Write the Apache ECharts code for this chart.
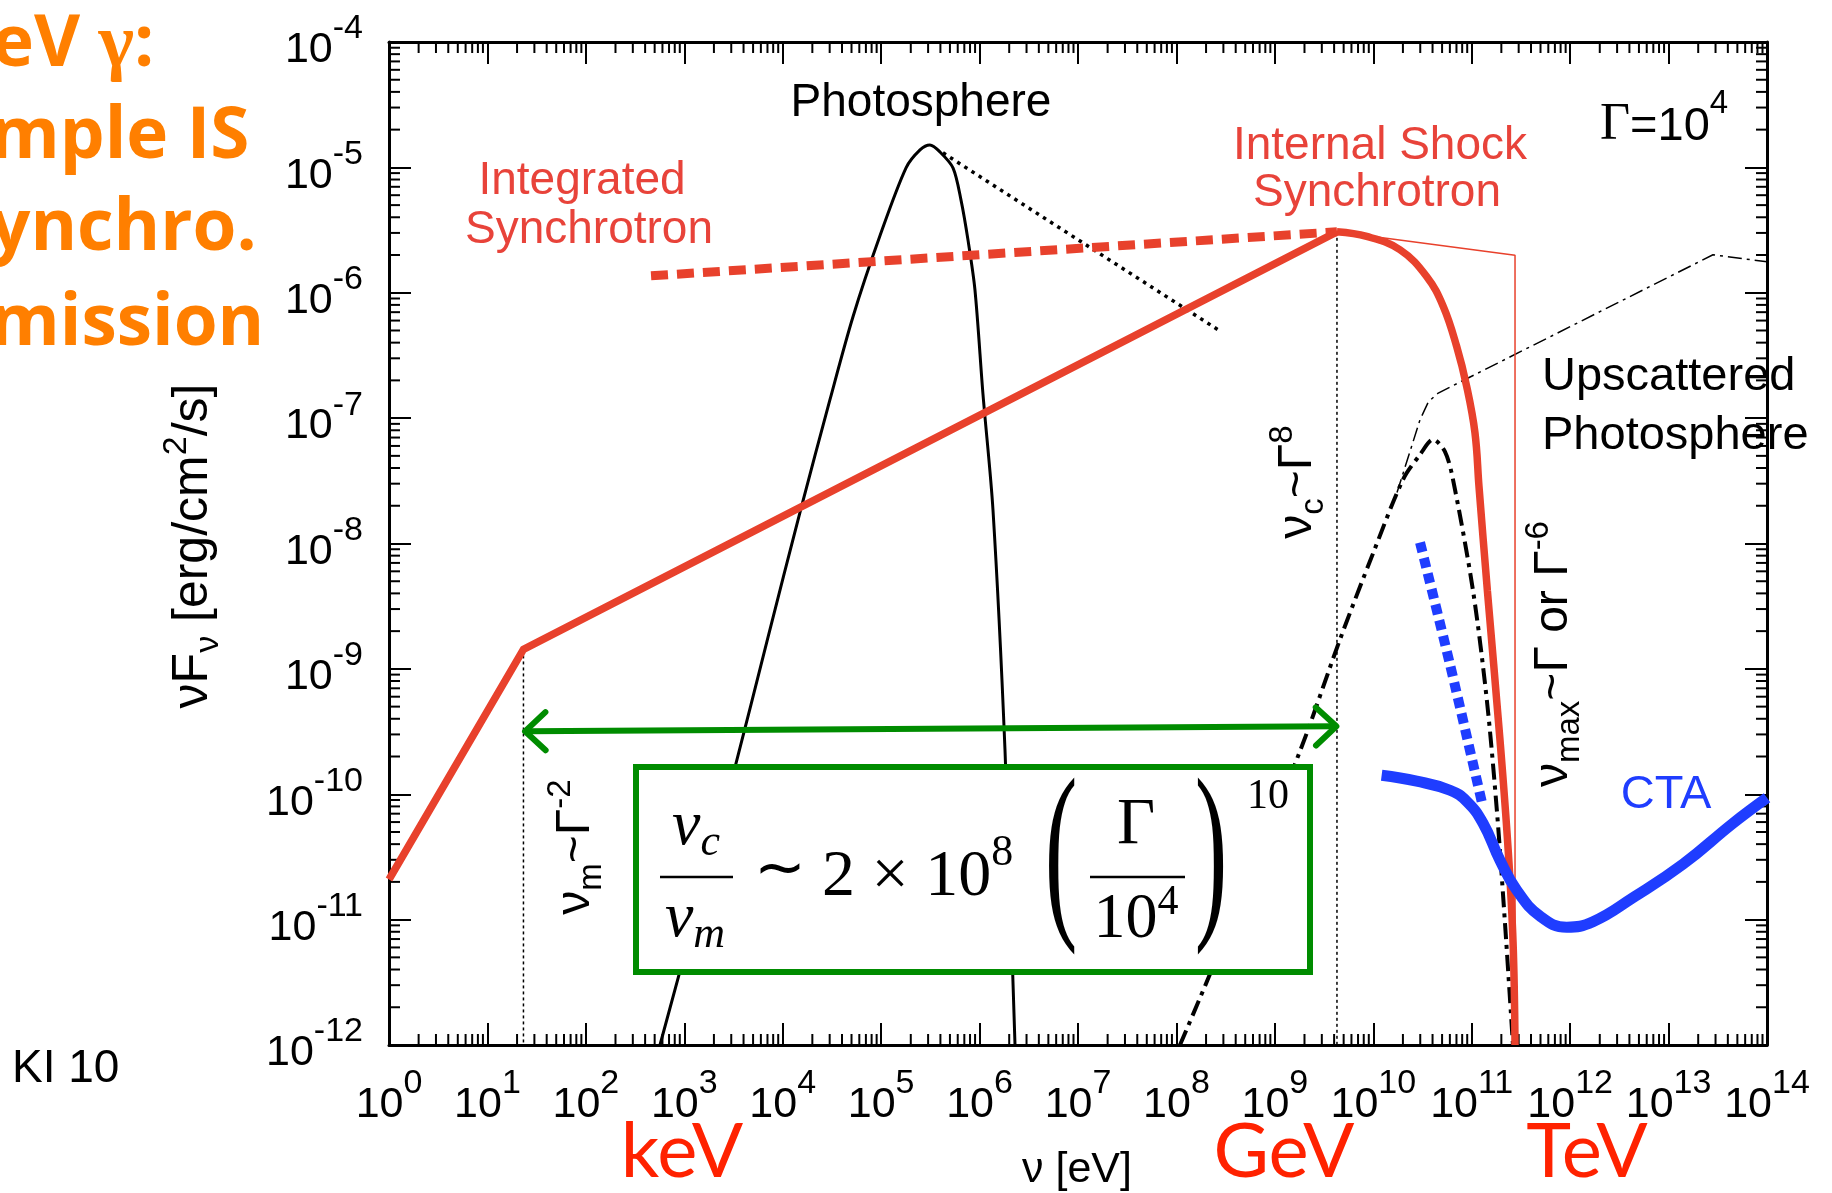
<!DOCTYPE html>
<html>
<head>
<meta charset="utf-8" />
<script src="https://cdn.jsdelivr.net/npm/echarts@6.0.0/dist/echarts.min.js"></script>
<style>
  html, body { margin: 0; padding: 0; background: #fff; }
  #main { width: 1832px; height: 1193px; }
</style>
</head>
<body>
<div id="main"></div>
<script type="text/javascript">
// every value below is a log10 exponent (nu in eV, nuFnu in erg/cm2/s)

// internal shock synchrotron, broken power law up to the peak
var isLogNu = [0, 1.366, 9.631];
var isLogF = [-10.68, -8.845, -5.514];
// its exponential cutoff above nu_c
var cutLogNu = [9.631, 9.933, 10.271, 10.542, 10.711, 10.847, 10.949, 11.033, 11.074, 11.159, 11.286, 11.37, 11.42, 11.44];
var cutLogF = [-5.514, -5.551, -5.657, -5.870, -6.109, -6.428, -6.747, -7.116, -7.546, -8.375, -9.554, -10.44, -11.18, -12.0];
// thin power law continuation up to nu_max, then the sharp drop
var maxLogNu = [9.631, 11.44, 11.44];
var maxLogF = [-5.514, -5.70, -12.0];
// integrated synchrotron (thick dashed)
var intLogNu = [2.662, 9.631];
var intLogF = [-5.865, -5.514];
// photosphere
var phLogNu = [2.753, 3.160, 3.515, 3.840, 4.176, 4.480, 4.714, 4.988, 5.253, 5.395, 5.496, 5.598, 5.730, 5.811, 5.882, 5.953, 6.035, 6.136, 6.258, 6.36];
var phLogF = [-12.0, -10.821, -9.785, -8.781, -7.749, -6.853, -6.191, -5.546, -5.004, -4.861, -4.821, -4.877, -5.004, -5.259, -5.578, -5.976, -6.813, -7.729, -9.641, -12.0];
// dotted tail off the photosphere peak
var tailLogNu = [5.628, 8.422];
var tailLogF = [-4.884, -6.295];
// upscattered photosphere (thick dash-dot)
var icLogNu = [8.036, 8.341, 9.255, 9.662, 9.997, 10.302, 10.475, 10.607, 10.728, 10.810, 11.013, 11.155, 11.257, 11.338, 11.419];
var icLogF = [-12.0, -11.434, -9.657, -8.765, -8.080, -7.490, -7.291, -7.171, -7.267, -7.490, -8.375, -9.259, -10.143, -11.028, -12.0];
// upscattered photosphere envelope (thin dash-dot)
var envLogNu = [10.241, 10.475, 10.56, 10.66, 13.451, 14.0];
var envLogF = [-7.594, -7.012, -6.87, -6.80, -5.697, -5.753];
// CTA sensitivity
var ctaLogNu = [10.085, 10.441, 10.779, 10.949, 11.115, 11.287, 11.457, 11.694, 11.965, 12.232, 12.639, 13.147, 13.655, 14.0];
var ctaLogF = [-9.849, -9.896, -9.968, -10.056, -10.231, -10.526, -10.765, -10.972, -11.060, -11.017, -10.825, -10.558, -10.231, -10.028];
// CTA short exposure (thick blue dashed)
var ctaShortLogNu = [10.475, 10.779, 11.101];
var ctaShortLogF = [-7.992, -8.964, -10.056];
// dotted markers for nu_m and nu_c
var numLogNu = [1.366, 1.366];
var numLogF = [-8.845, -12.0];
var nucLogNu = [9.631, 9.631];
var nucLogF = [-5.514, -12.0];
// green double arrow nu_m <-> nu_c
var arrowLogNu = [1.382, 9.625];
var arrowLogF = [-9.498, -9.458];

var xDecades = [0, 14];
var yDecades = [-12, -4];

function pts(lx, ly) {
  return lx.map(function (v, i) { return [Math.pow(10, v), Math.pow(10, ly[i])]; });
}

var xMinor = [];
for (var k = xDecades[0]; k < xDecades[1]; k++) {
  for (var m = 2; m <= 9; m++) xMinor.push([m * Math.pow(10, k), Math.pow(10, yDecades[0])]);
}
var yMinor = [];
for (var k2 = yDecades[0]; k2 < yDecades[1]; k2++) {
  for (var m2 = 2; m2 <= 9; m2++) yMinor.push([1, m2 * Math.pow(10, k2)]);
}

var sans = 'Liberation Sans, Arial, Helvetica, sans-serif';
var serif = 'Liberation Serif, Times New Roman, serif';
var red = '#e8412c';
var redText = '#e8433a';
var blue = '#1f3dff';
var green = '#008c00';

var myChart = echarts.init(document.getElementById('main'));

function expLabel(value) {
  var e = Math.round(Math.log(value) / Math.LN10);
  return '{b|10}{s|' + e + '}';
}
var tickRich = {
  b: { fontSize: 43, fontFamily: sans, color: '#000', lineHeight: 60, verticalAlign: 'bottom' },
  s: { fontSize: 34, fontFamily: sans, color: '#000', lineHeight: 22, verticalAlign: 'top' }
};

function axisBase(extra) {
  var base = {
    axisLine: { show: true, lineStyle: { color: '#000', width: 3 } },
    axisTick: { show: true, inside: true, length: 22, lineStyle: { color: '#000', width: 2 } },
    splitLine: { show: false },
    minorTick: { show: false },
    interval: 1
  };
  return Object.assign(base, extra);
}

function xMinorItem(params, api) {
  var v = api.value(0);
  var b = api.coord([v, Math.pow(10, yDecades[0])]);
  var t = api.coord([v, Math.pow(10, yDecades[1])]);
  return {
    type: 'group',
    children: [
      { type: 'line', shape: { x1: b[0], y1: b[1], x2: b[0], y2: b[1] - 11 }, style: { stroke: '#000', lineWidth: 2 } },
      { type: 'line', shape: { x1: t[0], y1: t[1], x2: t[0], y2: t[1] + 11 }, style: { stroke: '#000', lineWidth: 2 } }
    ]
  };
}
function yMinorItem(params, api) {
  var v = api.value(1);
  var l = api.coord([Math.pow(10, xDecades[0]), v]);
  var r = api.coord([Math.pow(10, xDecades[1]), v]);
  return {
    type: 'group',
    children: [
      { type: 'line', shape: { x1: l[0], y1: l[1], x2: l[0] + 11, y2: l[1] }, style: { stroke: '#000', lineWidth: 2 } },
      { type: 'line', shape: { x1: r[0], y1: r[1], x2: r[0] - 11, y2: r[1] }, style: { stroke: '#000', lineWidth: 2 } }
    ]
  };
}
function arrowItem(params, api) {
  var a = api.coord([api.value(0), api.value(1)]);
  var b = api.coord([api.value(2), api.value(3)]);
  var ang = Math.atan2(b[1] - a[1], b[0] - a[0]);
  var h = 28, spread = 0.75;
  function head(p, dir) {
    return [
      [p[0] + dir * h * Math.cos(ang - spread), p[1] + dir * h * Math.sin(ang - spread)],
      p,
      [p[0] + dir * h * Math.cos(ang + spread), p[1] + dir * h * Math.sin(ang + spread)]
    ];
  }
  var st = { stroke: green, lineWidth: 6, fill: null, lineJoin: 'round', lineCap: 'round' };
  return {
    type: 'group',
    children: [
      { type: 'line', shape: { x1: a[0] + 3, y1: a[1], x2: b[0] - 3, y2: b[1] }, style: st },
      { type: 'polyline', shape: { points: head(a, 1) }, style: st },
      { type: 'polyline', shape: { points: head(b, -1) }, style: st }
    ]
  };
}

function line(data, style, smooth, z) {
  return {
    type: 'line', data: data, showSymbol: false, symbol: 'none', silent: true,
    smooth: smooth || false, lineStyle: style, z: z || 2, clip: true
  };
}

var labelCommon = { interval: 0, hideOverlap: false, showMinLabel: true, showMaxLabel: true, formatter: expLabel, rich: tickRich };

var option = {
  animation: false,
  backgroundColor: '#fff',
  grid: { left: 389, right: 65, top: 42, bottom: 148, containLabel: false, outerBoundsMode: 'none' },
  xAxis: [
    axisBase({
      type: 'log', logBase: 10, position: 'bottom',
      min: Math.pow(10, xDecades[0]), max: Math.pow(10, xDecades[1]),
      axisLabel: Object.assign({ margin: 22 }, labelCommon)
    }),
    axisBase({
      type: 'log', logBase: 10, position: 'top',
      min: Math.pow(10, xDecades[0]), max: Math.pow(10, xDecades[1]),
      axisLabel: { show: false }
    })
  ],
  yAxis: [
    axisBase({
      type: 'log', logBase: 10, position: 'left',
      min: Math.pow(10, yDecades[0]), max: Math.pow(10, yDecades[1]),
      axisLabel: Object.assign({ margin: 26 }, labelCommon)
    }),
    axisBase({
      type: 'log', logBase: 10, position: 'right',
      min: Math.pow(10, yDecades[0]), max: Math.pow(10, yDecades[1]),
      axisLabel: { show: false }
    })
  ],
  series: [
    { type: 'custom', renderItem: xMinorItem, data: xMinor, silent: true, clip: false, z: 1 },
    { type: 'custom', renderItem: yMinorItem, data: yMinor, silent: true, clip: false, z: 1 },
    line(pts(numLogNu, numLogF), { color: '#000', width: 1.5, type: [3, 3] }),
    line(pts(nucLogNu, nucLogF), { color: '#000', width: 1.5, type: [3, 3] }),
    line(pts(phLogNu, phLogF), { color: '#000', width: 3 }, 0.3),
    line(pts(tailLogNu, tailLogF), { color: '#000', width: 3.5, type: [3.5, 5] }),
    line(pts(envLogNu, envLogF), { color: '#000', width: 1.5, type: [14, 5, 3, 5] }),
    line(pts(icLogNu, icLogF), { color: '#000', width: 4, type: [16, 6, 4, 6] }, 0.3),
    line(pts(intLogNu, intLogF), { color: red, width: 9, type: [17, 9] }),
    line(pts(maxLogNu, maxLogF), { color: red, width: 1.5 }),
    line(pts(isLogNu, isLogF), { color: red, width: 7.5, join: 'round' }),
    line(pts(cutLogNu, cutLogF), { color: red, width: 7.5 }, 0.4),
    line(pts(ctaShortLogNu, ctaShortLogF), { color: blue, width: 10, type: [10, 6] }, 0.3),
    line(pts(ctaLogNu, ctaLogF), { color: blue, width: 11 }, 0.45),
    {
      type: 'custom', renderItem: arrowItem, silent: true, clip: false, z: 5,
      encode: { x: [0, 2], y: [1, 3] },
      data: [[Math.pow(10, arrowLogNu[0]), Math.pow(10, arrowLogF[0]), Math.pow(10, arrowLogNu[1]), Math.pow(10, arrowLogF[1])]]
    }
  ],
  graphic: []
};

function txt(x, y, text, o) {
  o = o || {};
  return {
    type: 'text', x: x, y: y, rotation: o.rotation || 0, z: 20, silent: true,
    scaleX: o.scaleX || 1,
    style: {
      text: text, fill: o.color || '#000', fontSize: o.size || 46,
      fontFamily: o.family || sans, fontWeight: o.weight || 'normal', fontStyle: o.style || 'normal',
      align: o.align || 'center', verticalAlign: o.valign || 'middle', rich: o.rich
    }
  };
}

var subRich = {
  m: { fontSize: 48, fontFamily: sans, fill: '#000', lineHeight: 64 },
  sub: { fontSize: 33, fontFamily: sans, fill: '#000', lineHeight: 32, verticalAlign: 'bottom' },
  sup: { fontSize: 33, fontFamily: sans, fill: '#000', lineHeight: 32, verticalAlign: 'top' }
};
var nameRich = {
  m: { fontSize: 50, fontFamily: sans, fill: '#000', lineHeight: 66 },
  sub: { fontSize: 34, fontFamily: sans, fill: '#000', lineHeight: 32, verticalAlign: 'bottom' },
  sup: { fontSize: 34, fontFamily: sans, fill: '#000', lineHeight: 32, verticalAlign: 'top' }
};
var mathRich = {
  v: { fontSize: 64, fontFamily: serif, fontStyle: 'italic', fill: '#000', lineHeight: 70, verticalAlign: 'top' },
  i: { fontSize: 44, fontFamily: serif, fontStyle: 'italic', fill: '#000', lineHeight: 40, verticalAlign: 'bottom' },
  n: { fontSize: 66, fontFamily: serif, fill: '#000', lineHeight: 80, verticalAlign: 'bottom' },
  e: { fontSize: 44, fontFamily: serif, fill: '#000', lineHeight: 34, verticalAlign: 'top' },
  n2: { fontSize: 64, fontFamily: serif, fill: '#000', lineHeight: 70, verticalAlign: 'bottom' },
  e2: { fontSize: 42, fontFamily: serif, fill: '#000', lineHeight: 46, verticalAlign: 'top' }
};
var orange = '#ff7f00';
var titleFace = 'Open Sans, DejaVu Sans, sans-serif';
var orangeFont = { align: 'left', size: 71, family: titleFace, weight: 'bold', color: orange };
var orangeRich = {
  t: { fontSize: 71, fontFamily: titleFace, fontWeight: 'bold', fill: orange },
  g: { fontSize: 76, fontFamily: serif, fontWeight: 'bold', fill: orange }
};

option.graphic = [
  // orange slide title, cut at the left edge
  txt(-8, 46, '{t|eV }{g|γ}{t|:}', { align: 'left', rich: orangeRich }),
  txt(-10, 138, 'mple IS', orangeFont),
  txt(-10, 230, 'ynchro.', orangeFont),
  txt(-10, 325, 'mission', orangeFont),
  txt(12, 1069, 'KI 10', { align: 'left', size: 46 }),

  // curve labels
  txt(921, 103, 'Photosphere', { size: 46 }),
  txt(582, 181, 'Integrated', { size: 46, color: redText }),
  txt(589, 230, 'Synchrotron', { size: 46, color: redText }),
  txt(1380, 146, 'Internal Shock', { size: 46, color: redText }),
  txt(1377, 193, 'Synchrotron', { size: 46, color: redText }),
  txt(1600, 119, '{g|Γ}{t|=10}{s|4}', { align: 'left', rich: {
    g: { fontSize: 52, fontFamily: serif, fill: '#000', lineHeight: 64, verticalAlign: 'bottom' },
    t: { fontSize: 47, fontFamily: sans, fill: '#000', lineHeight: 64, verticalAlign: 'bottom' },
    s: { fontSize: 33, fontFamily: sans, fill: '#000', lineHeight: 30, verticalAlign: 'top' }
  } }),
  txt(1542, 377, 'Upscattered', { align: 'left', size: 47 }),
  txt(1542, 436, 'Photosphere', { align: 'left', size: 47 }),
  txt(1666, 795, 'CTA', { size: 47, color: blue }),

  // rotated scaling labels
  txt(1298, 482, '{m|ν}{sub|c}{m|~Γ}{sup|8}', { rotation: Math.PI / 2, rich: subRich }),
  txt(1554, 654, '{m|ν}{sub|max}{m|~Γ or Γ}{sup|-6}', { rotation: Math.PI / 2, rich: subRich }),
  txt(576, 847, '{m|ν}{sub|m}{m|~Γ}{sup|-2}', { rotation: Math.PI / 2, rich: subRich }),

  // axis titles
  txt(193, 546, '{m|νF}{sub|ν}{m| [erg/cm}{sup|2}{m|/s]}', { rotation: Math.PI / 2, rich: nameRich }),
  txt(1077, 1170, 'ν [eV]', { size: 43 }),
  txt(682, 1152, 'keV', { size: 76, family: 'Lato', color: '#ff2200' }),
  txt(1284, 1152, 'GeV', { size: 76, family: 'Lato', color: '#ff2200' }),
  txt(1587, 1152, 'TeV', { size: 76, family: 'Lato', color: '#ff2200' }),

  // formula box
  { type: 'rect', z: 15, silent: true, shape: { x: 636, y: 767, width: 674, height: 205 },
    style: { fill: '#fff', stroke: green, lineWidth: 6 } },
  txt(696, 830, '{v|ν}{i|c}', { rich: mathRich }),
  { type: 'line', z: 20, silent: true, shape: { x1: 660, y1: 877, x2: 733, y2: 877 }, style: { stroke: '#000', lineWidth: 2.5 } },
  txt(695, 922, '{v|ν}{i|m}', { rich: mathRich }),
  txt(780, 872, '∼', { size: 62, family: serif }),
  txt(822, 871, '{n|2 × 10}{e|8}', { align: 'left', rich: mathRich }),
  txt(1061, 862, '(', { size: 196, family: serif, scaleX: 0.5 }),
  txt(1136, 826, 'Γ', { size: 66, family: serif }),
  { type: 'line', z: 20, silent: true, shape: { x1: 1090, y1: 877, x2: 1185, y2: 877 }, style: { stroke: '#000', lineWidth: 2.5 } },
  txt(1136, 917, '{n2|10}{e2|4}', { rich: mathRich }),
  txt(1211, 862, ')', { size: 196, family: serif, scaleX: 0.5 }),
  txt(1268, 797, '10', { size: 42, family: serif })
];

myChart.setOption(option);
</script>
</body>
</html>
